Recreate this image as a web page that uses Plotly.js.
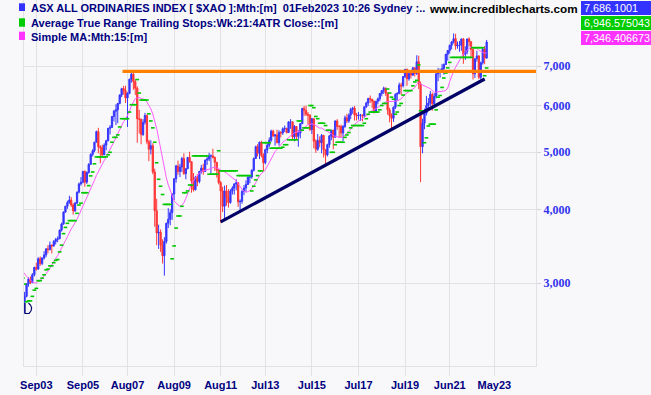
<!DOCTYPE html>
<html><head><meta charset="utf-8">
<script src="https://cdn.plot.ly/plotly-3.0.1.min.js"></script>
<style>html,body{margin:0;padding:0;background:#f8f8fa;}#chart{width:651px;height:395px;}</style>
</head><body><div id="chart"></div>
<script>
// Monthly bars, Feb 2003 .. Jan 2023 (open = previous month's close)
const firstYear = 2003, firstMonth = 2;
const priorCloses = [3360,3380,3370,3440,3330,3370,3190,3010,3070,2930,2990,2990,2975,2930]; // Dec01..Jan03 (SMA warm-up)
const closes = [
 2790,2850,2990,3050,3010,3100,3190,3170,3300,3240,3310,
 3350,3430,3420,3480,3470,3530,3560,3570,3690,3780,3960,4050,
 4110,4150,4070,3980,4100,4280,4420,4450,4640,4450,4620,4770,
 4960,5030,5200,5420,5110,5090,4950,5140,5230,5490,5510,5750,
 5870,5900,6050,6250,6410,6360,6180,6290,6650,6780,6590,6420,
 5700,5690,5360,5620,5770,5210,5060,5130,4630,3980,3650,3660,
 3480,3340,3530,3790,3850,3950,4250,4510,4740,4640,4720,4880,
 4600,4690,4900,4820,4470,4320,4530,4460,4640,4700,4640,4850,
 4870,4930,4930,4900,4810,4660,4440,4300,4050,4300,4200,4110,
 4300,4350,4420,4440,4120,4130,4290,4350,4410,4540,4540,4660,
 4880,5110,4980,5200,4940,4800,5050,5140,5240,5430,5330,5350,
 5190,5400,5390,5480,5490,5400,5630,5630,5310,5530,5320,5390,
 5590,5930,5890,5800,5780,5460,5700,5220,5060,5240,5190,5340,
 5050,4950,5150,5330,5450,5300,5650,5530,5530,5390,5530,5720,
 5650,5780,5910,5940,5780,5770,5780,5780,5760,5970,6060,6170,
 6150,6100,5870,6100,6160,6290,6360,6420,6300,5900,5770,5710,
 5960,6270,6290,6500,6480,6720,6910,6660,6800,6760,6950,6800,
 7120,6530,5110,5600,5820,6000,6060,6270,6040,6220,6790,6850,
 6870,6930,7040,7330,7440,7590,7690,7790,7570,7590,7590,7780,
 7330,7400,7780,7700,7470,6790,7200,7280,6700,7090,7480,7220,
 7686.1001
];
const highs = [
 2950,2900,3000,3070,3080,3120,3200,3250,3320,3330,3320,
 3400,3440,3480,3530,3490,3550,3580,3600,3700,3800,3970,4060,
 4140,4220,4200,4100,4120,4290,4440,4540,4650,4660,4640,4790,
 4980,5060,5210,5440,5500,5140,5150,5180,5250,5500,5560,5760,
 5900,6030,6060,6270,6430,6480,6480,6320,6660,6850,6873,6650,
 6470,5900,5700,5690,5830,5800,5250,5240,5180,4690,4170,3770,
 3700,3560,3590,3800,4020,4000,4260,4520,4760,4840,4780,4910,
 4980,4700,4910,5010,4830,4610,4560,4590,4650,4760,4780,4860,
 4920,4990,4960,5070,4920,4810,4690,4470,4370,4390,4400,4330,
 4330,4380,4430,4500,4450,4160,4320,4400,4480,4550,4560,4680,
 4900,5130,5160,5210,5230,4980,5070,5180,5300,5460,5460,5370,
 5460,5450,5430,5510,5550,5500,5640,5690,5640,5560,5530,5450,
 5600,5950,5990,6000,5850,5800,5720,5700,5260,5370,5320,5370,
 5350,5060,5170,5350,5450,5460,5660,5690,5560,5570,5560,5770,
 5810,5820,5950,5970,5990,5830,5850,5810,5800,5980,6090,6180,
 6240,6150,6120,6110,6190,6300,6370,6460,6440,6310,5950,5820,
 5980,6290,6320,6560,6560,6720,6920,6930,6870,6850,6970,6960,
 7300,7290,6590,5700,5930,6230,6180,6350,6310,6300,6800,6950,
 6930,7060,7070,7340,7450,7610,7720,7950,7940,7700,7720,7790,
 7810,7560,7790,7830,7700,7530,7210,7430,7300,7120,7510,7570,
 7750
];
const lows = [
 2770,2670,2840,2960,2990,3000,3080,3150,3160,3210,3220,
 3290,3320,3370,3410,3370,3460,3490,3520,3560,3670,3770,3950,
 4010,4090,4040,3920,3960,4090,4260,4390,4430,4370,4420,4600,
 4760,4920,5000,5200,4980,4790,4930,4950,5040,5220,5360,5500,
 5640,5560,5600,6030,6200,6260,6060,5520,6270,6560,6380,6250,
 5190,5380,5160,5330,5570,5160,4830,4960,4590,3740,3480,3430,
 3390,3240,3090,3500,3720,3760,3840,4150,4440,4580,4540,4630,
 4580,4500,4680,4800,4270,4290,4310,4380,4430,4600,4580,4640,
 4760,4830,4610,4880,4650,4530,4410,3800,3960,3850,4060,4030,
 4090,4240,4240,4310,4040,3990,4090,4230,4280,4400,4430,4510,
 4640,4880,4920,4870,4900,4640,4770,4980,5100,5210,5310,5130,
 5180,5130,5300,5350,5410,5380,5390,5480,5260,5220,5250,5110,
 5280,5590,5760,5760,5580,5440,5370,5080,4990,5030,5100,4980,
 4900,4760,4920,5090,5240,5060,5300,5460,5290,5290,5220,5500,
 5600,5610,5690,5810,5660,5660,5680,5650,5640,5730,5940,5990,
 6060,5940,5820,5840,6030,6100,6220,6280,6230,5790,5620,5470,
 5630,5920,6110,6270,6260,6440,6680,6480,6610,6670,6730,6720,
 6760,6400,4450,4980,5470,5770,5910,5980,5880,5990,6170,6600,
 6690,6820,6770,7030,7150,7350,7470,7640,7460,7490,7400,7430,
 7060,7170,7330,7560,7240,6640,6680,7120,6650,6640,7040,7050,
 7210
];
// ATR trailing stop level shown for each month
const stops = [
 3060,2990,2790,2800,2800,2850,2920,2940,3030,3030,3060,
 3100,3160,3170,3210,3210,3250,3280,3290,3390,3480,3640,3730,
 3790,3830,3830,3830,3830,3940,4070,4100,4270,4270,4270,4390,
 4560,4630,4780,4910,4910,4910,4910,4910,4910,4950,5000,5200,
 5300,5300,5350,5520,5700,5700,5700,5700,5850,6020,6020,6020,
 6640,6300,6130,6130,6130,6130,5810,5650,5500,5200,4800,4500,
 4380,4240,4080,4080,4080,4080,3300,3470,3720,3900,3900,4050,
 4270,4270,4300,4400,4400,4930,4930,4930,4930,4930,4930,4930,
 4930,4590,4590,4590,4590,4590,5030,4650,4650,4650,4650,4650,
 4650,4650,4650,4650,4565,4565,4565,4565,4565,4565,4565,4300,
 4380,4490,4565,4650,4650,5190,5190,5190,5190,5080,5080,5080,
 5080,5080,5080,5100,5150,5150,5250,5250,5250,5250,5250,5650,
 5650,5450,5500,5500,5500,6000,6000,5950,5750,5700,5600,5600,
 5600,5550,5450,5450,5000,5000,5150,5200,5200,5200,5200,5300,
 5350,5400,5500,5550,5550,5550,5550,5550,5550,5600,5700,5800,
 5850,5850,5850,5850,5850,5900,6000,6050,6050,6400,6300,6200,
 6150,5800,5850,6000,6050,6250,6360,6360,6360,6360,6480,6580,
 6620,7030,5880,5880,5190,5290,5540,5580,5580,5580,5900,6200,
 6240,6440,6680,6810,6950,7100,7240,7240,7240,7240,7240,7240,
 7240,7240,7240,7240,7240,7520,7520,7520,7520,7520,7520,6740,
 6946.575043
];
const tickDates = ['2003-09-01','2005-09-01','2007-08-01','2009-08-01','2011-08-01','2013-07-01','2015-07-01','2017-07-01','2019-07-01','2021-06-01','2023-05-01'];
const tickLabels = ['Sep03','Sep05','Aug07','Aug09','Aug11','Jul13','Jul15','Jul17','Jul19','Jun21','May23'];
const yTickVals = [3000,4000,5000,6000,7000];
const yTickText = ['3,000','4,000','5,000','6,000','7,000'];
const trendDates = ['2011-08-01','2022-12-01'];
const trendVals = [3811,6654];
const resistDates = ['2007-05-15','2025-02-13'];
const resistVals = [6857,6857];
const smaPeriod = 15;

const dates = closes.map((_, i) => {
  const m = firstMonth - 1 + i;
  const y = firstYear + Math.floor(m / 12);
  return y + '-' + String(m % 12 + 1).padStart(2, '0') + '-01';
});
const opens = closes.map((_, i) => i === 0 ? priorCloses[priorCloses.length - 1] : closes[i - 1]);
const allCloses = priorCloses.concat(closes);
const sma = closes.map((_, i) => {
  const end = i + priorCloses.length; let s = 0;
  for (let k = end - smaPeriod + 1; k <= end; k++) s += allCloses[k];
  return s / smaPeriod;
});

const L = 24, R = 115, T = 0, B = 29, W = 651, H = 395;
const pw = W - L - R, ph = H - T - B;
const px = x => (x - L) / pw;
const py = y => (ph + T - y) / ph;

const traces = [
  { type: 'scatter', mode: 'lines', x: dates, y: sma, line: {color: '#ff5cff', width: 1}, hoverinfo: 'skip' },
  { type: 'candlestick', x: dates, open: opens, high: highs, low: lows, close: closes,
    increasing: {line: {color: '#3535ff', width: 1}, fillcolor: '#3535ff'},
    decreasing: {line: {color: '#ff3535', width: 1}, fillcolor: '#ff3535'},
    whiskerwidth: 0, hoverinfo: 'skip' },
  { type: 'scatter', mode: 'markers', x: dates, y: stops,
    marker: {symbol: 'line-ew', size: 2.6, line: {color: '#00c800', width: 1.6}}, hoverinfo: 'skip' },
  { type: 'scatter', mode: 'lines', x: resistDates, y: resistVals, line: {color: '#ff8000', width: 3.2}, hoverinfo: 'skip' },
  { type: 'scatter', mode: 'lines', x: trendDates, y: trendVals, line: {color: '#000066', width: 3.2}, hoverinfo: 'skip' }
];

const navy = '#000080';
const legFont = {family: 'Liberation Sans, Arial, sans-serif', size: 11, color: navy, weight: 'bold'};
const annotations = [
  {text: 'ASX ALL ORDINARIES INDEX [ $XAO ]:Mth:[m]&nbsp; 01Feb2023 10:26 Sydney :..', x: px(28.5), y: py(8.5)},
  {text: 'Average True Range Trailing Stops:Wk:21:4ATR Close::[m]', x: px(28.5), y: py(23)},
  {text: 'Simple MA:Mth:15:[m]', x: px(28.5), y: py(36.5)}
].map(a => Object.assign(a, {xref: 'paper', yref: 'paper', xanchor: 'left', yanchor: 'middle', showarrow: false, font: legFont}));
annotations.push({text: 'www.incrediblecharts.com', x: px(427), y: py(8), xref: 'paper', yref: 'paper', xanchor: 'left', yanchor: 'middle', showarrow: false,
  font: {family: 'Liberation Sans, Arial, sans-serif', size: 11.7, color: '#000000', weight: 'bold'}});
const boxes = [
  {t: '7,686.1001', c: '#3333ff', y0: 1, y1: 15},
  {t: '6,946.575043', c: '#00cc00', y0: 16, y1: 30},
  {t: '7,346.406673', c: '#ff33ff', y0: 31, y1: 45}
];
const shapes = [];
boxes.forEach(b => {
  shapes.push({type: 'rect', xref: 'paper', yref: 'paper', x0: px(581), x1: px(651), y0: py(b.y0), y1: py(b.y1), fillcolor: b.c, line: {width: 0}, layer: 'above'});
  annotations.push({text: b.t, x: px(582), y: py((b.y0 + b.y1) / 2), xref: 'paper', yref: 'paper', xanchor: 'left', yanchor: 'middle', showarrow: false,
    font: {family: 'Liberation Sans, Arial, sans-serif', size: 10.8, color: '#ffffff'}});
});
[['#3333ff', 3.3, 11], ['#00cc00', 18.3, 26.7], ['#ff33ff', 31.7, 40]].forEach(s => {
  shapes.push({type: 'rect', xref: 'paper', yref: 'paper', x0: px(19), x1: px(25), y0: py(s[1]), y1: py(s[2]), fillcolor: s[0], line: {width: 0}, layer: 'above'});
});
// small end-marker drawn at the start of the series
shapes.push({type: 'path', xref: 'paper', yref: 'paper', layer: 'above', line: {color: '#000066', width: 1.2},
  path: 'M ' + px(25) + ',' + py(303) + ' L ' + px(25) + ',' + py(313.5) + ' L ' + px(29) + ',' + py(313.5) +
        ' Q ' + px(34.5) + ',' + py(308) + ' ' + px(28.5) + ',' + py(303)});

const grid = '#e2e2e4';
const layout = {
  width: W, height: H, margin: {l: L, r: R, t: T, b: B, pad: 0},
  paper_bgcolor: '#f8f8fa', plot_bgcolor: '#f8f8fa', showlegend: false, hovermode: false,
  boxgap: 0,
  xaxis: {type: 'date', range: ['2003-02-20', '2025-02-13'], tickvals: tickDates, ticktext: tickLabels,
    showgrid: true, gridcolor: grid, gridwidth: 1, ticks: 'outside', ticklen: 9, tickcolor: grid,
    showline: true, linecolor: grid, linewidth: 1, zeroline: false, rangeslider: {visible: false},
    tickfont: {family: 'Liberation Sans, Arial, sans-serif', size: 11, color: navy, weight: 'bold'}, fixedrange: true},
  yaxis: {type: 'log', side: 'right', range: [Math.log10(2172), Math.log10(9057)], tickvals: yTickVals, ticktext: yTickText,
    showgrid: true, gridcolor: grid, gridwidth: 1, ticks: 'outside', ticklen: 4, tickcolor: '#d4d4d4',
    showline: true, mirror: true, linecolor: grid, linewidth: 1, zeroline: false,
    tickfont: {family: 'Liberation Serif, Times New Roman, serif', size: 12, color: '#3333ee', weight: 'bold'}, fixedrange: true},
  annotations: annotations, shapes: shapes
};
Plotly.newPlot('chart', traces, layout, {displayModeBar: false, staticPlot: true});
</script>
</body></html>
